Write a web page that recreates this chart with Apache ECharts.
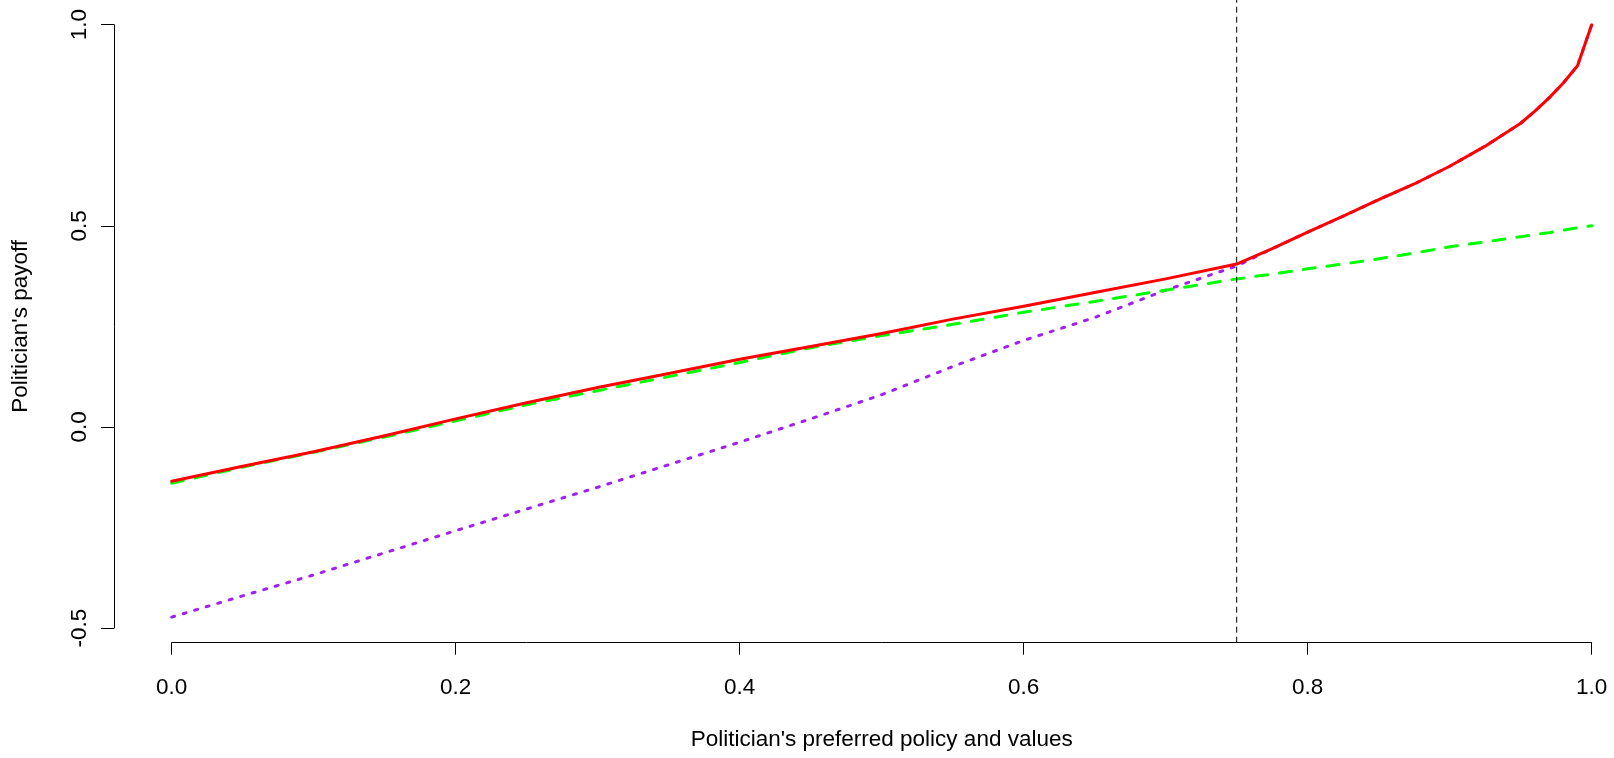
<!DOCTYPE html>
<html>
<head>
<meta charset="utf-8">
<script src="https://cdn.jsdelivr.net/npm/echarts@6/dist/echarts.min.js"></script>
<style>
    html, body { margin: 0; padding: 0; background: #fff; }
    #chart { width: 1614px; height: 758px; }
</style>
</head>
<body>
<div id="chart"></div>
<script>
    // politician's preferred policy (x)
    var policy = [0, 0.05, 0.1, 0.15, 0.2, 0.25, 0.3, 0.35, 0.4, 0.45, 0.5, 0.55, 0.6, 0.65, 0.7, 0.75,
                  0.775, 0.8, 0.825, 0.85, 0.875, 0.9, 0.925, 0.95, 0.96, 0.97, 0.98, 0.99, 1.0];
    // payoff curves
    var payoffRed    = [-0.135, -0.098, -0.062, -0.022, 0.020, 0.060, 0.098, 0.133, 0.168, 0.200, 0.232, 0.268, 0.300, 0.334, 0.368, 0.405,
                        0.443, 0.484, 0.524, 0.565, 0.604, 0.648, 0.698, 0.755, 0.785, 0.818, 0.855, 0.898, 1.0];
    var payoffGreen  = [-0.140, -0.100, -0.063, -0.025, 0.015, 0.055, 0.090, 0.125, 0.160, 0.197, 0.227, 0.255, 0.285, 0.312, 0.340, 0.368,
                        0.380, 0.393, 0.405, 0.418, 0.432, 0.448, 0.460, 0.473, 0.478, 0.483, 0.489, 0.495, 0.500];
    var payoffPurple = [-0.473, -0.420, -0.368, -0.313, -0.258, -0.204, -0.150, -0.094, -0.038, 0.020, 0.080, 0.150, 0.215, 0.272, 0.340, 0.400,
                        0.443, 0.484, 0.524, 0.565, 0.604, 0.648, 0.698, 0.755, 0.785, 0.818, 0.855, 0.898, 1.0];
    var cutoff = 0.75;
    var xTicks = [0, 0.2, 0.4, 0.6, 0.8, 1.0];
    var yTicks = [-0.5, 0, 0.5, 1.0];

    function pairs(xs, ys){
        var out = [];
        for(var i = 0; i < xs.length; i++){
            out.push([xs[i], ys[i]]);
        }
        return out;
    }

    var font = '"Liberation Sans", Arial, sans-serif';
    var myChart = echarts.init(document.getElementById('chart'), null, {renderer: 'canvas'});
    var option = {
        animation: false,
        backgroundColor: '#ffffff',
        grid: {
            left: 171.7,
            right: 22.3,
            top: 24.7,
            bottom: 130
        },
        xAxis: {
            type: 'value',
            min: xTicks[0],
            max: xTicks[xTicks.length - 1],
            interval: 0.2,
            offset: 14.7,
            name: "Politician's preferred policy and values",
            nameLocation: 'middle',
            nameGap: 86,
            nameTextStyle: {fontSize: 22.5, color: '#000', fontFamily: font},
            axisLine: {show: true, onZero: false, lineStyle: {color: '#000', width: 1}},
            axisTick: {show: true, length: 12, lineStyle: {color: '#000', width: 1}},
            axisLabel: {
                fontSize: 22.5, color: '#000', fontFamily: font, margin: 34,
                formatter: function(v){ return v.toFixed(1); }
            },
            splitLine: {show: false}
        },
        yAxis: {
            type: 'value',
            min: yTicks[0],
            max: yTicks[yTicks.length - 1],
            interval: 0.5,
            offset: 57.7,
            name: "Politician's payoff",
            nameLocation: 'middle',
            nameRotate: 90,
            nameGap: 82,
            nameTextStyle: {fontSize: 22.5, color: '#000', fontFamily: font},
            axisLine: {show: true, onZero: false, lineStyle: {color: '#000', width: 1}},
            axisTick: {show: true, length: 13, lineStyle: {color: '#000', width: 1}},
            axisLabel: {
                rotate: 90, fontSize: 22.5, color: '#000', fontFamily: font, margin: 23,
                formatter: function(v){ return v.toFixed(1); }
            },
            splitLine: {show: false}
        },
        series: [
            {
                type: 'line',
                data: pairs(policy, payoffPurple),
                symbol: 'none',
                lineStyle: {color: '#A020F0', width: 3, type: [3, 9], cap: 'round'}
            },
            {
                type: 'line',
                data: pairs(policy, payoffGreen),
                symbol: 'none',
                lineStyle: {color: '#00FF00', width: 3, type: [12, 12], cap: 'round'}
            },
            {
                type: 'line',
                data: pairs(policy, payoffRed),
                symbol: 'none',
                lineStyle: {color: '#FF0000', width: 3, type: 'solid', cap: 'round', join: 'round'}
            },
            {
                // cutoff line, spans whole plot region
                type: 'line',
                data: [[cutoff, -0.5365], [cutoff, 1.07]],
                symbol: 'none',
                clip: false,
                lineStyle: {color: '#000', width: 1, type: [6, 4]}
            }
        ]
    };
    myChart.setOption(option);
</script>
</body>
</html>
